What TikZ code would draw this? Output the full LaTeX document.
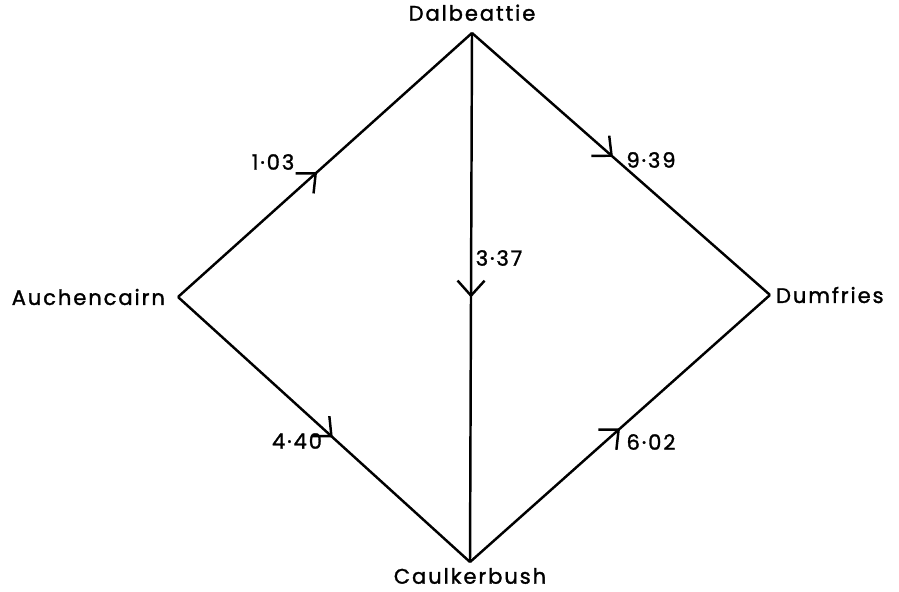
\documentclass[tikz,border=0pt]{standalone}
\usepackage{fontspec}
\setmainfont{Poppins}[LetterSpace=9,FakeBold=1.4]
\usetikzlibrary{arrows.meta,positioning,decorations.markings}

\begin{document}
\begin{tikzpicture}[>={Straight Barb[length=3mm,width=5.4mm,line width=1.4pt]},
  road/.style={line width=1.4pt,postaction={decorate},
    decoration={markings,mark=at position #1 with {\arrow{>}}}},
  town/.style={font=\fontsize{12}{14}\selectfont,inner sep=1pt},
  dist/.style={font=\fontsize{12}{14}\selectfont,inner sep=1pt}]
  \useasboundingbox (0,0) rectangle (17.98,11.84);
  % junctions
  \coordinate (dal) at (9.44,11.18);
  \coordinate (auch) at (3.56,5.90);
  \coordinate (cau) at (9.40,0.60);
  \coordinate (dum) at (15.40,5.94);
  % town names
  \node[town,above=0.2cm of dal] (daln) {Dalbeattie};
  \node[town,left=0.22cm of auch] (auchn) {Auchencairn};
  \node[town,right=0.08cm of dum] (dumn) {Dumfries};
  \node[town,below=0.08cm of cau] (caun) {Caulkerbush};
  % roads
  \draw[road=0.473] (auch) -- (dal);
  \draw[road=0.473] (dal) -- (dum);
  \draw[road=0.5] (dal) -- (cau);
  \draw[road=0.53] (auch) -- (cau);
  \draw[road=0.5] (cau) -- (dum);
  % distances
  \node[dist] (d1) at (5.46,8.60) {1·03};
  \node[dist] (d2) at (13.02,8.64) {9·39};
  \node[dist] (d3) at (9.98,6.68) {3·37};
  \node[dist] (d4) at (5.94,3.02) {4·40};
  \node[dist] (d5) at (13.02,3.00) {6·02};
\end{tikzpicture}
\end{document}
